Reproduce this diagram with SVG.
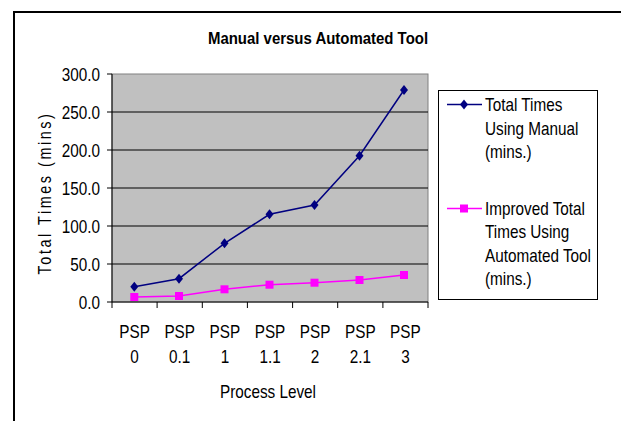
<svg xmlns="http://www.w3.org/2000/svg" width="621" height="421" viewBox="0 0 621 421">
<style>
  text { font-family: "Liberation Sans", Arial, sans-serif; fill: #000; }
  .title { font-size: 17px; font-weight: bold; text-anchor: middle; }
  .ylab { font-size: 18px; text-anchor: end; }
  .xlab { font-size: 18px; text-anchor: middle; }
  .leg { font-size: 18px; }
  .grid { stroke: #000; stroke-width: 1; }
  .axis { stroke: #000; stroke-width: 1; fill: none; }
  .manual { stroke: #000080; stroke-width: 1.5; fill: none; }
  .auto { stroke: #FF00FF; stroke-width: 1.5; fill: none; }
</style>
<defs>
  <path id="dia" d="M0,-5 L4,0 L0,5 L-4,0 Z" fill="#000080"/>
  <rect id="sq" x="-4" y="-4" width="8" height="8" fill="#FF00FF"/>
</defs>
<rect x="0" y="0" width="621" height="421" fill="#fff"/>
<path d="M14,421 L14,12 L621,12" fill="none" stroke="#000" stroke-width="2"/>

<g id="title"><text class="title" transform="translate(318,43.5) scale(0.88,1)">Manual versus Automated Tool</text></g>

<g id="plot">
  <rect x="112" y="74" width="316" height="228" fill="#C0C0C0" stroke="#808080" stroke-width="1"/>
  <g class="grid">
    <line x1="112" y1="112" x2="428" y2="112"/>
    <line x1="112" y1="150" x2="428" y2="150"/>
    <line x1="112" y1="188" x2="428" y2="188"/>
    <line x1="112" y1="226" x2="428" y2="226"/>
    <line x1="112" y1="264" x2="428" y2="264"/>
  </g>
  <g class="axis">
    <line x1="112" y1="74" x2="112" y2="302"/>
    <line x1="107" y1="302" x2="428" y2="302"/>
    <line x1="107" y1="74" x2="112" y2="74"/>
    <line x1="107" y1="112" x2="112" y2="112"/>
    <line x1="107" y1="150" x2="112" y2="150"/>
    <line x1="107" y1="188" x2="112" y2="188"/>
    <line x1="107" y1="226" x2="112" y2="226"/>
    <line x1="107" y1="264" x2="112" y2="264"/>
    <line x1="112" y1="302" x2="112" y2="308"/>
    <line x1="157.1" y1="302" x2="157.1" y2="308"/>
    <line x1="202.3" y1="302" x2="202.3" y2="308"/>
    <line x1="247.4" y1="302" x2="247.4" y2="308"/>
    <line x1="292.6" y1="302" x2="292.6" y2="308"/>
    <line x1="337.7" y1="302" x2="337.7" y2="308"/>
    <line x1="382.9" y1="302" x2="382.9" y2="308"/>
    <line x1="428" y1="302" x2="428" y2="308"/>
  </g>
</g>

<g id="y-labels">
  <text class="ylab" transform="translate(100,80.5) scale(0.85,1)">300.0</text>
  <text class="ylab" transform="translate(100,118.5) scale(0.85,1)">250.0</text>
  <text class="ylab" transform="translate(100,156.5) scale(0.85,1)">200.0</text>
  <text class="ylab" transform="translate(100,194.5) scale(0.85,1)">150.0</text>
  <text class="ylab" transform="translate(100,232.5) scale(0.85,1)">100.0</text>
  <text class="ylab" transform="translate(100,270.5) scale(0.85,1)">50.0</text>
  <text class="ylab" transform="translate(100,308.5) scale(0.85,1)">0.0</text>
</g>

<g id="y-title">
  <text font-size="18" text-anchor="middle" letter-spacing="3.2" transform="translate(51,193) rotate(-90) scale(0.8,1)">Total Times (mins)</text>
</g>

<g id="x-labels">
  <text class="xlab" transform="translate(134.6,338) scale(0.85,1)">PSP</text>
  <text class="xlab" transform="translate(179.7,338) scale(0.85,1)">PSP</text>
  <text class="xlab" transform="translate(224.9,338) scale(0.85,1)">PSP</text>
  <text class="xlab" transform="translate(270,338) scale(0.85,1)">PSP</text>
  <text class="xlab" transform="translate(315.1,338) scale(0.85,1)">PSP</text>
  <text class="xlab" transform="translate(360.3,338) scale(0.85,1)">PSP</text>
  <text class="xlab" transform="translate(405.4,338) scale(0.85,1)">PSP</text>
  <text class="xlab" transform="translate(134.6,363) scale(0.85,1)">0</text>
  <text class="xlab" transform="translate(179.7,363) scale(0.85,1)">0.1</text>
  <text class="xlab" transform="translate(224.9,363) scale(0.85,1)">1</text>
  <text class="xlab" transform="translate(270,363) scale(0.85,1)">1.1</text>
  <text class="xlab" transform="translate(315.1,363) scale(0.85,1)">2</text>
  <text class="xlab" transform="translate(360.3,363) scale(0.85,1)">2.1</text>
  <text class="xlab" transform="translate(405.4,363) scale(0.85,1)">3</text>
</g>

<g id="x-title"><text class="xlab" transform="translate(268,398) scale(0.85,1)">Process Level</text></g>

<g id="connectors">
  <polyline class="manual" points="134.3,286.7 179,278.7 224.5,243.3 269.5,214.3 314.5,205 359.5,155.7 404,90"/>
  <polyline class="auto" points="134.3,297 179,296 224.5,289.3 269.5,284.7 314.5,282.7 359.5,280 404,275"/>
</g>

<g id="series-manual">
  <use href="#dia" x="134.3" y="286.7"/>
  <use href="#dia" x="179" y="278.7"/>
  <use href="#dia" x="224.5" y="243.3"/>
  <use href="#dia" x="269.5" y="214.3"/>
  <use href="#dia" x="314.5" y="205"/>
  <use href="#dia" x="359.5" y="155.7"/>
  <use href="#dia" x="404" y="90"/>
</g>
<g id="series-auto">
  <use href="#sq" x="134.3" y="297"/>
  <use href="#sq" x="179" y="296"/>
  <use href="#sq" x="224.5" y="289.3"/>
  <use href="#sq" x="269.5" y="284.7"/>
  <use href="#sq" x="314.5" y="282.7"/>
  <use href="#sq" x="359.5" y="280"/>
  <use href="#sq" x="404" y="275"/>
</g>

<g id="legend">
  <rect x="438.5" y="90.5" width="159" height="209" fill="#fff" stroke="#000" stroke-width="1"/>
  <line x1="447" y1="104.5" x2="482" y2="104.5" stroke="#000080" stroke-width="1.5"/>
  <use href="#dia" x="464" y="104.5"/>
  <text class="leg" transform="translate(485,111) scale(0.85,1)">Total Times</text>
  <text class="leg" transform="translate(485,134.5) scale(0.85,1)">Using Manual</text>
  <text class="leg" transform="translate(485,158) scale(0.85,1)">(mins.)</text>
  <line x1="447" y1="208.5" x2="482" y2="208.5" stroke="#FF00FF" stroke-width="1.5"/>
  <use href="#sq" x="464" y="208.5"/>
  <text class="leg" transform="translate(485,215) scale(0.85,1)">Improved Total</text>
  <text class="leg" transform="translate(485,238) scale(0.85,1)">Times Using</text>
  <text class="leg" transform="translate(485,261.5) scale(0.85,1)">Automated Tool</text>
  <text class="leg" transform="translate(485,285) scale(0.85,1)">(mins.)</text>
</g>
</svg>
